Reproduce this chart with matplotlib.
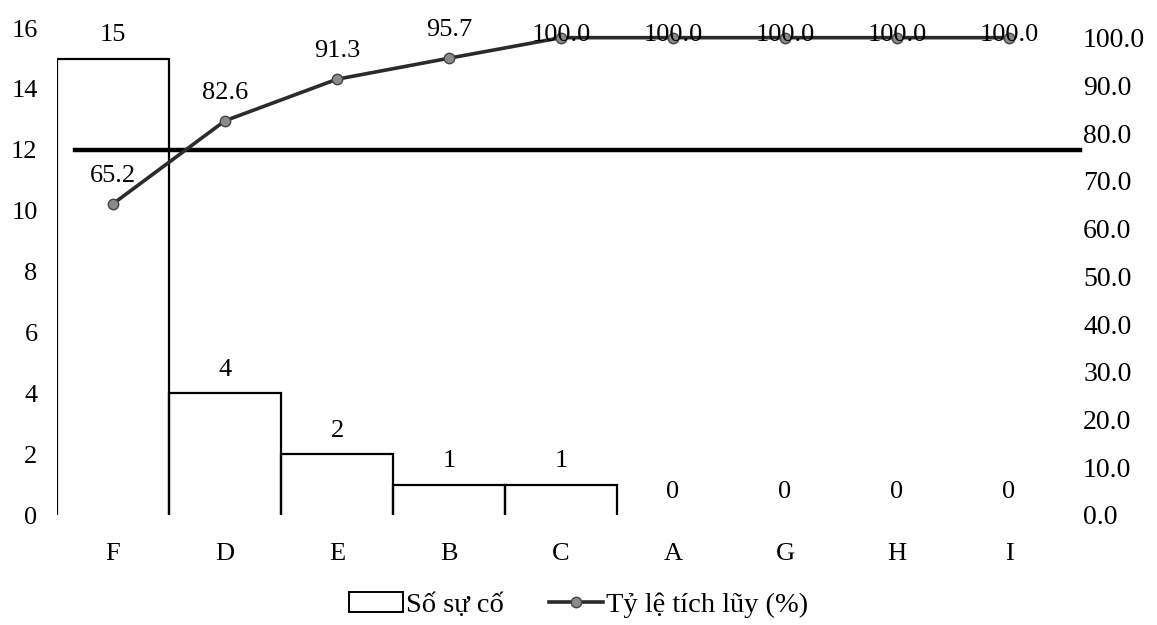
import matplotlib
matplotlib.use("Agg")
import matplotlib.pyplot as plt
from matplotlib.lines import Line2D
from matplotlib.patches import Patch

plt.rcParams['font.family'] = ['Liberation Serif', 'DejaVu Serif']

categories = ["F", "D", "E", "B", "C", "A", "G", "H", "I"]
counts = [15, 4, 2, 1, 1, 0, 0, 0, 0]
cum_pct = [65.2, 82.6, 91.3, 95.7, 100.0, 100.0, 100.0, 100.0, 100.0]
left_ticks = [0, 2, 4, 6, 8, 10, 12, 14, 16]
right_ticks = [0, 10, 20, 30, 40, 50, 60, 70, 80, 90, 100]
threshold = 76.5  # cut-off line as drawn in the scan

fig = plt.figure(figsize=(11.57, 6.25), dpi=100)
ax = fig.add_axes([0.0493, 0.176, 0.8712, 0.779])
ax2 = ax.twinx()

x = list(range(len(categories)))
# white bars, outlined on top and sides only (no baseline in the original)
bars = ax.bar(x, counts, width=1.0, facecolor='white', edgecolor='none')
for rect, h in zip(bars, counts):
    if h == 0:
        continue
    x0, x1 = rect.get_x(), rect.get_x() + rect.get_width()
    ax.plot([x0, x0, x1, x1], [0, h, h, 0], color='black', linewidth=1.6,
            solid_joinstyle='miter')
ax.bar_label(bars, labels=[str(c) for c in counts], padding=9, fontsize=19)

ax.set_xlim(-0.5, len(categories) - 0.5)
ax.set_ylim(0, 16)
ax.set_yticks(left_ticks)
ax.set_xticks(x)
ax.set_xticklabels(categories)
ax.tick_params(axis='y', length=0, pad=14, labelsize=19)
ax.tick_params(axis='x', length=0, pad=20, labelsize=19)

ax2.plot(x, cum_pct, color='#2b2b2b', linewidth=2.6, marker='o', markersize=7.5,
         markerfacecolor='#8a8a8a', markeredgecolor='#444444', zorder=3)
for xi, v in zip(x, cum_pct):
    dy = 2 if v >= 100 else 20
    ax2.annotate(f"{v:.1f}", (xi, v), xytext=(0, dy), textcoords='offset points',
                 ha='center', va='center', fontsize=19)
ax2.axhline(threshold, xmin=0.018, xmax=1.015, color='black', linewidth=3.2, clip_on=False)

ax2.set_ylim(0, 102)
ax2.set_yticks(right_ticks)
ax2.set_yticklabels([f"{t:.1f}" for t in right_ticks])
ax2.tick_params(axis='y', length=0, pad=13, labelsize=20)

for a in (ax, ax2):
    for s in a.spines.values():
        s.set_visible(False)

handles = [Patch(facecolor='white', edgecolor='black', linewidth=1.4),
           Line2D([0], [0], color='#2b2b2b', linewidth=2.6, marker='o', markersize=7.5,
                  markerfacecolor='#8a8a8a', markeredgecolor='#444444')]
fig.legend(handles, ["Số sự cố", "Tỷ lệ tích lũy (%)"], loc='center',
           bbox_to_anchor=(0.5, 0.032), ncol=2, frameon=False, fontsize=20.5,
           handlelength=1.9, handletextpad=0.1, columnspacing=1.6)

fig.savefig("out.png", dpi=100)
